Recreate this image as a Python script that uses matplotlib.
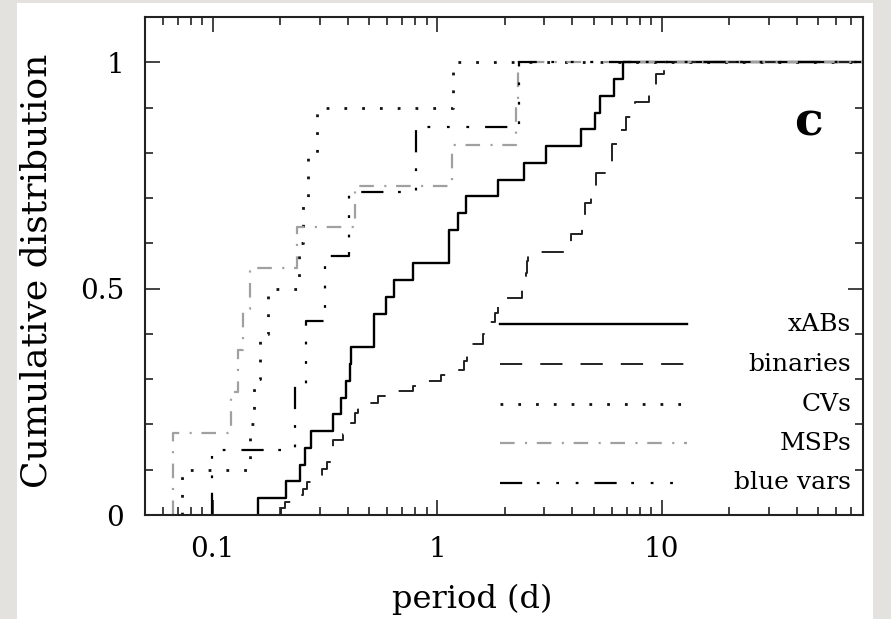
import numpy as np
import matplotlib.pyplot as plt
from matplotlib.ticker import FixedLocator, MultipleLocator, LogLocator, NullFormatter
from matplotlib.patches import Rectangle

plt.rcParams['font.family'] = ['DejaVu Serif']
plt.rcParams['lines.scale_dashes'] = False

# orbital periods (days) of each class of variable
xab_period = [0.159, 0.213, 0.244, 0.257, 0.275, 0.343, 0.374, 0.395, 0.408,
              0.415, 0.526, 0.526, 0.593, 0.646, 0.779, 1.134, 1.134, 1.235,
              1.345, 1.86, 2.44, 3.05, 4.36, 5.05, 5.30, 6.14, 6.73]
cv_period = [0.073, 0.147, 0.153, 0.162, 0.176, 0.242, 0.252, 0.265, 0.291, 1.18]
msp_period = [0.0666, 0.0666, 0.121, 0.130, 0.136, 0.147, 0.237, 0.429, 1.17,
              2.25, 2.30]
bluevar_period = [0.099, 0.232, 0.262, 0.316, 0.405, 0.807, 2.32]

# binaries: step positions and cumulative fraction after each step
bin_period = [0.2026, 0.2096, 0.2393, 0.2519, 0.2624, 0.2938, 0.3061, 0.3221,
              0.3356, 0.3425, 0.3795, 0.412, 0.429, 0.4424, 0.543, 0.589,
              0.785, 0.826, 1.045, 1.134, 1.322, 1.364, 1.392, 1.606, 1.690,
              1.816, 1.873, 1.950, 2.394, 2.494, 2.520, 2.546, 3.794, 3.954,
              4.426, 4.564, 4.852, 5.105, 5.71, 6.01, 6.53, 6.94, 7.61, 8.78,
              9.06, 9.43, 10.24, 10.56]
bin_frac = [0.015, 0.029, 0.044, 0.058, 0.073, 0.088, 0.102, 0.117, 0.146,
            0.166, 0.180, 0.204, 0.226, 0.248, 0.262, 0.274, 0.285, 0.297,
            0.310, 0.320, 0.340, 0.360, 0.378, 0.400, 0.427, 0.447, 0.470,
            0.480, 0.510, 0.535, 0.560, 0.580, 0.595, 0.620, 0.650, 0.690,
            0.720, 0.755, 0.780, 0.820, 0.850, 0.880, 0.913, 0.929, 0.950,
            0.973, 0.990, 1.000]

labels = ['xABs', 'binaries', 'CVs', 'MSPs', 'blue vars']

XMIN, XMAX = 0.05, 79.0

fig = plt.figure(figsize=(8.91, 6.19), dpi=100)
fig.patch.set_facecolor('#e4e2df')
fig.patches.append(Rectangle((17 / 891, 0), (873 - 17) / 891, 616 / 619,
                             transform=fig.transFigure, facecolor='white',
                             edgecolor='none', zorder=-5))
ax = fig.add_axes([145 / 891, 104 / 619, 718 / 891, 498 / 619])
ax.set_facecolor('none')


def ecdf(periods):
    p = np.sort(np.asarray(periods))
    f = np.arange(1, len(p) + 1) / len(p)
    return p, f


def draw_cdf(p, f, **kw):
    x = np.concatenate([[p[0]], p, [XMAX]])
    y = np.concatenate([[0.0], f, [1.0]])
    return ax.plot(x, y, drawstyle='steps-post', **kw)[0]


styles = [
    dict(color='black', lw=1.7, linestyle='-'),
    dict(color='#222222', lw=1.4, dashes=(16, 13)),
    dict(color='#111111', lw=2.0, dashes=(2.0, 10.8)),
    dict(color='#a0a0a0', lw=1.6, dashes=(10.5, 7.5, 1.5, 7)),
    dict(color='black', lw=1.6, dashes=(16, 10.5, 2, 12, 2, 12, 2, 11.5)),
]

p, f = ecdf(xab_period)
draw_cdf(p, f, **styles[0])
draw_cdf(np.array(bin_period), np.array(bin_frac), **styles[1])
p, f = ecdf(cv_period)
draw_cdf(p, f, **styles[2])
p, f = ecdf(msp_period)
draw_cdf(p, f, **styles[3])
p, f = ecdf(bluevar_period)
draw_cdf(p, f, **styles[4])

# hand-placed key with right-aligned labels
rows_y = [0.383, 0.3026, 0.2223, 0.144, 0.0649]
for lab, st, yy in zip(labels, styles, rows_y):
    ax.plot([0.4944, 0.7549], [yy, yy], transform=ax.transAxes, **st)
    ax.text(0.9833, yy, lab, transform=ax.transAxes, ha='right', va='center',
            fontsize=18)

ax.text(0.9234, 0.789, 'c', transform=ax.transAxes, ha='center', va='center',
        fontsize=34, fontweight='bold')

ax.set_xscale('log')
ax.set_xlim(XMIN, XMAX)
ax.set_ylim(0, 1.1)

ax.xaxis.set_major_locator(FixedLocator([0.1, 1, 10]))
ax.set_xticklabels(['0.1', '1', '10'])
ax.xaxis.set_minor_locator(LogLocator(base=10, subs=np.arange(2, 10)))
ax.xaxis.set_minor_formatter(NullFormatter())
ax.yaxis.set_major_locator(FixedLocator([0, 0.5, 1]))
ax.set_yticklabels(['0', '0.5', '1'])
ax.yaxis.set_minor_locator(MultipleLocator(0.1))

ax.tick_params(which='both', direction='in', top=True, right=True,
               labelsize=20, width=1.2, color='#222222')
ax.tick_params(which='major', length=11, pad=15)
ax.tick_params(which='minor', length=5.5)
for s in ax.spines.values():
    s.set_linewidth(1.5)
    s.set_color('#222222')

ax.set_xlabel('period (d)', fontsize=23)
ax.set_ylabel('Cumulative distribution', fontsize=26)
ax.xaxis.set_label_coords(0.455, -0.138)
ax.yaxis.set_label_coords(-0.128, 0.49)

fig.savefig('out.png', dpi=100)
